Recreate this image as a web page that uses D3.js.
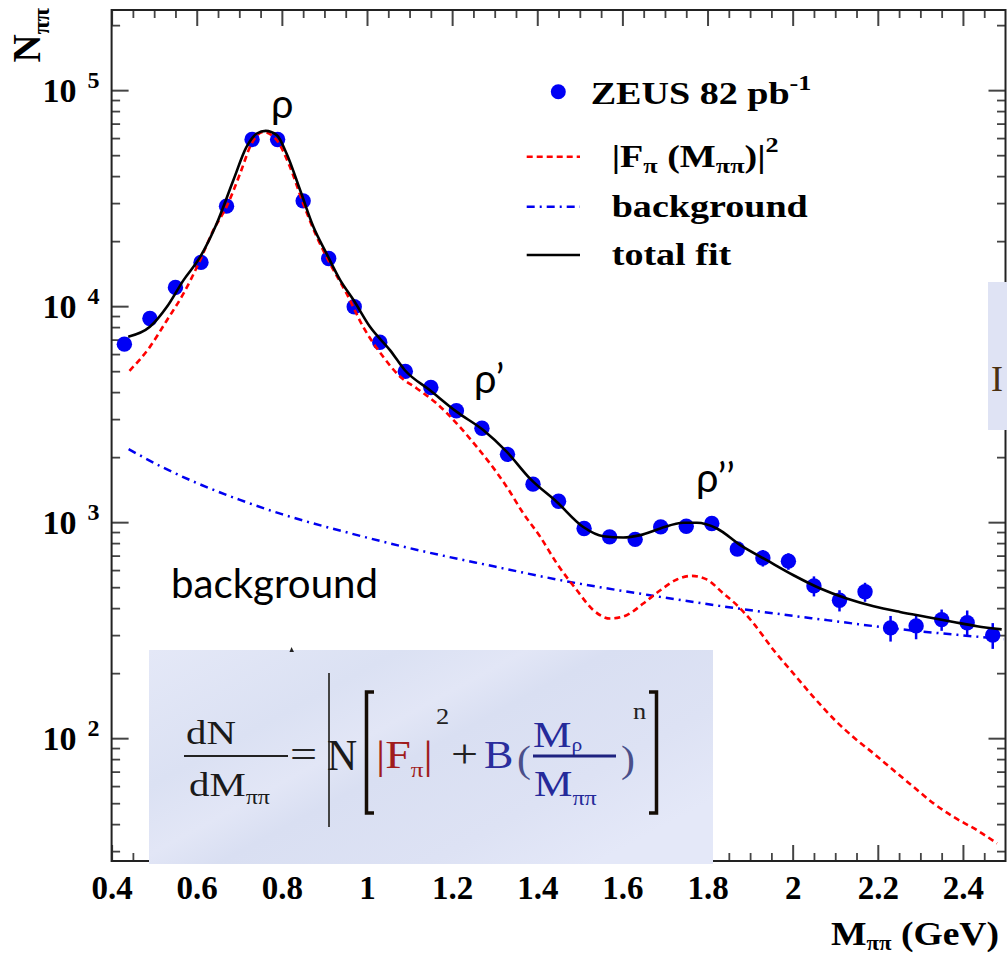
<!DOCTYPE html>
<html><head><meta charset="utf-8">
<script src="https://cdn.jsdelivr.net/npm/d3@7"></script>
<style>html,body{margin:0;padding:0;background:#fff;} svg{display:block;}</style>
</head><body>
<svg id="chart" width="1007" height="955"></svg>
<script>
// ---------- data ----------
const massPoints = [0.43,0.49,0.55,0.61,0.67,0.73,0.79,0.85,0.91,0.97,1.03,1.09,1.15,1.21,1.27,1.33,1.39,1.45,1.51,1.57,1.63,1.69,1.75,1.81,1.87,1.93,1.99,2.05,2.11,2.17,2.23,2.29,2.35,2.41,2.47];
const countsPoints = [6670,8770,12210,15940,29040,59120,59120,30720,16630,9930,6810,4990,4200,3280,2720,2060,1500,1250,935,855,832,951,958,986,751,683,660,507,435,476,324,331,354,342,300];
const countErrors = [150,190,260,330,520,900,900,560,340,230,170,140,120,100,90,75,60,55,45,45,45,50,50,55,52,60,58,54,49,48,44,44,40,48,41];

const fitMass = [0.439,0.490,0.530,0.569,0.608,0.647,0.686,0.717,0.741,0.762,0.788,0.811,0.843,0.874,0.905,0.937,0.968,1.007,1.054,1.089,1.148,1.211,1.273,1.328,1.383,1.446,1.508,1.555,1.602,1.642,1.689,1.743,1.775,1.822,1.877,1.939,2.002,2.065,2.127,2.190,2.252,2.315,2.378,2.433,2.491];
const fitTotal = [7210,8020,9930,13200,16900,24150,38300,54600,63000,64800,61900,50900,34400,23300,17500,13200,10700,8020,6260,5050,4080,3240,2670,2120,1590,1240,950,861,849,871,935,993,993,935,783,667,568,493,443,408,384,364,345,330,319];

const formFactorMass = [0.442,0.490,0.530,0.569,0.608,0.639,0.670,0.702,0.729,0.756,0.788,0.819,0.850,0.882,0.913,0.952,0.991,1.038,1.078,1.117,1.164,1.211,1.258,1.289,1.328,1.367,1.407,1.446,1.493,1.532,1.571,1.610,1.649,1.689,1.728,1.763,1.798,1.837,1.869,1.908,1.955,2.002,2.049,2.096,2.143,2.190,2.237,2.284,2.331,2.378,2.433,2.480];
const formFactorVals = [5020,6480,8610,11450,16330,22480,28830,41160,56650,64100,58680,44150,29890,20930,15760,11450,8020,5830,4710,4160,3540,2860,2230,1870,1460,1100,855,644,484,391,358,371,420,484,543,564,543,468,413,340,256,199,155,123,101,85,71,59.5,49.9,43.2,37.5,32.6];

const bgMass = [0.440,0.520,0.600,0.700,0.800,0.960,1.100,1.300,1.454,1.689,1.869,2.080,2.237,2.472,2.495];
const bgVals = [2178,1794,1519,1271,1089,889,758,623,539,451,399,352,322,290,287];

const xTickValues = [0.4,0.6,0.8,1.0,1.2,1.4,1.6,1.8,2.0,2.2,2.4];
const xTickLabels = ["0.4","0.6","0.8","1","1.2","1.4","1.6","1.8","2","2.2","2.4"];
const yTickExponents = [2,3,4,5];

// ---------- setup ----------
const W = 1007, H = 955;
const plot = {left:111.6, right:1005.5, top:10, bottom:861};
const svg = d3.select("#chart");
const x = d3.scaleLinear().domain([0.4,2.5]).range([plot.left, plot.right]);
const y = d3.scaleLog().domain([27, 2.35e5]).range([plot.bottom, plot.top]);
const SERIF = "'Liberation Serif','Times New Roman',serif";
const SANS = "Lato,'Open Sans','DejaVu Sans',sans-serif";

svg.append("rect").attr("width",W).attr("height",H).attr("fill","#fff");

const defs = svg.append("defs");
const grad = defs.append("linearGradient").attr("id","boxGrad")
  .attr("x1","0").attr("y1","0").attr("x2","1").attr("y2","0.7");
[[0,"#e4e8f7"],[0.3,"#dbe1f3"],[0.45,"#e2e6f6"],[0.55,"#d9dff2"],[0.8,"#dde2f4"],[1,"#e4e8f8"]]
  .forEach(([o,c]) => grad.append("stop").attr("offset",o).attr("stop-color",c));

// ---------- axes ----------
const xMinor = d3.range(0.45, 2.5, 0.05).filter(v => Math.abs(v*5 - Math.round(v*5)) > 1e-6);
const yMajor = yTickExponents.map(e => Math.pow(10,e));
const yMinor = [];
for (let e = 1; e <= 5; e++) for (let m = 2; m <= 9; m++) { const v = m*Math.pow(10,e); if (v > 27 && v < 2.35e5) yMinor.push(v); }

function styleAxis(g, w){ g.select(".domain").remove(); g.selectAll(".tick line").attr("stroke","#444").attr("stroke-width",w); }

const axes = svg.append("g");
// bottom
axes.append("g").attr("transform",`translate(0,${plot.bottom})`)
  .call(d3.axisBottom(x).tickValues(xTickValues).tickSize(-16).tickPadding(15).tickFormat((d,i)=>xTickLabels[i]))
  .call(g => styleAxis(g, 2))
  .selectAll("text").attr("font-family",SERIF).attr("font-weight","bold").attr("font-size",33).attr("fill","#000");
axes.append("g").attr("transform",`translate(0,${plot.bottom})`)
  .call(d3.axisBottom(x).tickValues(xMinor).tickSize(-8).tickFormat(""))
  .call(g => styleAxis(g, 1.8));
// top
axes.append("g").attr("transform",`translate(0,${plot.top})`)
  .call(d3.axisTop(x).tickValues(xTickValues).tickSize(-16).tickFormat(""))
  .call(g => styleAxis(g, 2));
axes.append("g").attr("transform",`translate(0,${plot.top})`)
  .call(d3.axisTop(x).tickValues(xMinor).tickSize(-8).tickFormat(""))
  .call(g => styleAxis(g, 1.8));
// left
const leftAx = axes.append("g").attr("transform",`translate(${plot.left},0)`)
  .call(d3.axisLeft(y).tickValues(yMajor).tickSize(-17).tickFormat(""))
  .call(g => styleAxis(g, 2));
axes.append("g").attr("transform",`translate(${plot.left},0)`)
  .call(d3.axisLeft(y).tickValues(yMinor).tickSize(-8.5).tickFormat(""))
  .call(g => styleAxis(g, 1.8));
// right
axes.append("g").attr("transform",`translate(${plot.right},0)`)
  .call(d3.axisRight(y).tickValues(yMajor).tickSize(-17).tickFormat(""))
  .call(g => styleAxis(g, 2));
axes.append("g").attr("transform",`translate(${plot.right},0)`)
  .call(d3.axisRight(y).tickValues(yMinor).tickSize(-8.5).tickFormat(""))
  .call(g => styleAxis(g, 1.8));

// y tick labels 10^n
leftAx.selectAll(".tick").each(function(d){
  const t = d3.select(this);
  const e = Math.round(Math.log10(d));
  t.append("text").attr("x",-35).attr("y",11.5).attr("text-anchor","end")
    .attr("font-family",SERIF).attr("font-weight","bold").attr("font-size",34).attr("fill","#000").text("10");
  t.append("text").attr("x",-24).attr("y",-3).attr("text-anchor","start")
    .attr("font-family",SERIF).attr("font-weight","bold").attr("font-size",24).attr("fill","#000").text(String(e));
});

// frame
svg.append("rect").attr("x",plot.left).attr("y",plot.top)
  .attr("width",plot.right-plot.left).attr("height",plot.bottom-plot.top)
  .attr("fill","none").attr("stroke","#222").attr("stroke-width",2);

// ---------- data marks ----------
const pts = massPoints.map((m,i)=>({m, v:countsPoints[i], e:countErrors[i]}));
const marks = svg.append("g");
marks.selectAll("line.err").data(pts).join("line").attr("class","err")
  .attr("x1",d=>x(d.m)).attr("x2",d=>x(d.m))
  .attr("y1",d=>y(d.v+d.e)).attr("y2",d=>y(d.v-d.e))
  .attr("stroke","#0000f5").attr("stroke-width",2.5);
marks.selectAll("circle").data(pts).join("circle")
  .attr("cx",d=>x(d.m)).attr("cy",d=>y(d.v)).attr("r",7.7).attr("fill","#0000f5");

const line = d3.line().x(d=>x(d[0])).y(d=>y(d[1])).curve(d3.curveMonotoneX);
marks.append("path").datum(bgMass.map((m,i)=>[m,bgVals[i]])).attr("d",line)
  .attr("fill","none").attr("stroke","#0000f0").attr("stroke-width",2.5).attr("stroke-dasharray","8,5,2,5");
marks.append("path").datum(formFactorMass.map((m,i)=>[m,formFactorVals[i]])).attr("d",line)
  .attr("fill","none").attr("stroke","#ff0000").attr("stroke-width",2.6).attr("stroke-dasharray","6,4");
marks.append("path").datum(fitMass.map((m,i)=>[m,fitTotal[i]])).attr("d",line)
  .attr("fill","none").attr("stroke","#000").attr("stroke-width",2.6);

// ---------- helper for stretched text ----------
function stext(parent, tx, ty, sx, opts){
  const g = parent.append("g").attr("transform",`translate(${tx},${ty}) scale(${sx},1)`);
  const t = g.append("text").attr("x",0).attr("y",0)
    .attr("font-family",opts.family||SERIF).attr("font-weight",opts.weight||"normal")
    .attr("font-size",opts.size).attr("fill",opts.fill||"#000");
  return t;
}

// ---------- axis titles ----------
{
  const t = stext(svg, 831, 945, 1.14, {size:33, weight:"bold"});
  t.append("tspan").text("M");
  t.append("tspan").attr("font-size",20).attr("dy",5).text("ππ");
  t.append("tspan").attr("dy",-5).text(" (GeV)");
}
{
  const g = svg.append("g").attr("transform","translate(40,8) rotate(-90)");
  const t = g.append("text").attr("text-anchor","end").attr("font-family",SERIF).attr("font-weight","bold")
    .attr("font-size",39).attr("fill","#000");
  t.append("tspan").text("N");
  t.append("tspan").attr("font-size",24).attr("dy",9).text("ππ");
}

// ---------- legend ----------
const leg = svg.append("g");
leg.append("circle").attr("cx",558.3).attr("cy",91.7).attr("r",7.5).attr("fill","#0000f5");
{
  const t = stext(leg, 590.7, 103.5, 1.19, {size:32, weight:"bold"});
  t.append("tspan").text("ZEUS 82 pb");
  t.append("tspan").attr("font-size",22).attr("dy",-14).text("-1");
}
leg.append("line").attr("x1",526.7).attr("x2",580).attr("y1",156.7).attr("y2",156.7)
  .attr("stroke","#ff0000").attr("stroke-width",2.6).attr("stroke-dasharray","6,4");
{
  const t = stext(leg, 611.7, 167, 1.19, {size:32, weight:"bold"});
  t.append("tspan").text("|F");
  t.append("tspan").attr("font-size",22).attr("dy",6).text("π");
  t.append("tspan").attr("dy",-6).text(" (M");
  t.append("tspan").attr("font-size",22).attr("dy",6).text("ππ");
  t.append("tspan").attr("dy",-6).text(")|");
  t.append("tspan").attr("font-size",22).attr("dy",-15).text("2");
}
leg.append("line").attr("x1",526.7).attr("x2",580).attr("y1",206.7).attr("y2",206.7)
  .attr("stroke","#0000f0").attr("stroke-width",2.5).attr("stroke-dasharray","8,5,2,5");
stext(leg, 611.7, 216.7, 1.19, {size:32, weight:"bold"}).text("background");
leg.append("line").attr("x1",526.7).attr("x2",580).attr("y1",255).attr("y2",255)
  .attr("stroke","#000").attr("stroke-width",2.6);
stext(leg, 611.7, 264.5, 1.19, {size:32, weight:"bold"}).text("total fit");

// ---------- annotations ----------
const ann = svg.append("g").attr("font-family",SANS).attr("fill","#000");
ann.append("text").attr("x",271).attr("y",118).attr("font-size",40).text("ρ");
ann.append("text").attr("x",474).attr("y",393).attr("font-size",40).text("ρ’");
ann.append("text").attr("x",696).attr("y",492).attr("font-size",40).text("ρ’’");
ann.append("text").attr("x",171).attr("y",598).attr("font-size",40)
  .attr("textLength",207).attr("lengthAdjust","spacingAndGlyphs").text("background");

// ---------- formula box ----------
const fb = svg.append("g");
fb.append("rect").attr("x",149).attr("y",650).attr("width",564).attr("height",214).attr("fill","url(#boxGrad)");
fb.append("path").attr("d","M289.5,652 L291.5,647 L294,652 Z").attr("fill","#222");
stext(fb, 186, 744, 1.2, {size:34, fill:"#1a1a1a"}).text("dN");
fb.append("line").attr("x1",184).attr("x2",288).attr("y1",756).attr("y2",756).attr("stroke","#222").attr("stroke-width",2);
{
  const t = stext(fb, 189, 796, 1.2, {size:34, fill:"#1a1a1a"});
  t.append("tspan").text("dM");
  t.append("tspan").attr("font-size",20).attr("dy",8).text("ππ");
}
stext(fb, 290, 768, 1.2, {size:40, fill:"#222"}).text("=");
fb.append("line").attr("x1",329).attr("x2",329).attr("y1",673).attr("y2",827).attr("stroke","#444").attr("stroke-width",2);
stext(fb, 327, 770, 0.95, {size:44, fill:"#1a1a1a"}).text("N");
fb.append("path").attr("d","M374,692 H366.5 V813 H374").attr("fill","none").attr("stroke","#150d05").attr("stroke-width",3.5);
{
  const t = stext(fb, 376, 768, 1.15, {size:40, fill:"#a01c1c"});
  t.append("tspan").text("|F");
  t.append("tspan").attr("font-size",22).attr("dy",9).text("π");
  t.append("tspan").attr("dy",-9).text("|");
}
stext(fb, 436, 724, 1.1, {size:24, fill:"#222"}).text("2");
stext(fb, 451, 767, 1.2, {size:40, fill:"#222"}).text("+");
stext(fb, 484, 768, 1.1, {size:40, fill:"#2a2d9c"}).text("B");
stext(fb, 517, 772, 1.1, {size:38, fill:"#4a4f8a"}).text("(");
{
  const t = stext(fb, 533, 747, 1.2, {size:36, fill:"#252a9a"});
  t.append("tspan").text("M");
  t.append("tspan").attr("font-size",18).attr("dy",4).text("ρ");
}
fb.append("line").attr("x1",533).attr("x2",616).attr("y1",756).attr("y2",756).attr("stroke","#1e2280").attr("stroke-width",3);
{
  const t = stext(fb, 534, 796, 1.2, {size:36, fill:"#252a9a"});
  t.append("tspan").text("M");
  t.append("tspan").attr("font-size",20).attr("dy",9).text("ππ");
}
stext(fb, 621, 772, 1.1, {size:38, fill:"#4a4f8a"}).text(")");
stext(fb, 633, 719, 1.1, {size:24, fill:"#222"}).text("n");
fb.append("path").attr("d","M649,692 H656.5 V813 H649").attr("fill","none").attr("stroke","#150d05").attr("stroke-width",3.5);

// right partial box
const rb = svg.append("g");
rb.append("rect").attr("x",988).attr("y",282).attr("width",19).attr("height",148).attr("fill","#dfe3f4");
rb.append("text").attr("x",991).attr("y",391).attr("font-family",SERIF).attr("font-size",36).attr("fill","#4a3010").text("I");
</script>
</body></html>
